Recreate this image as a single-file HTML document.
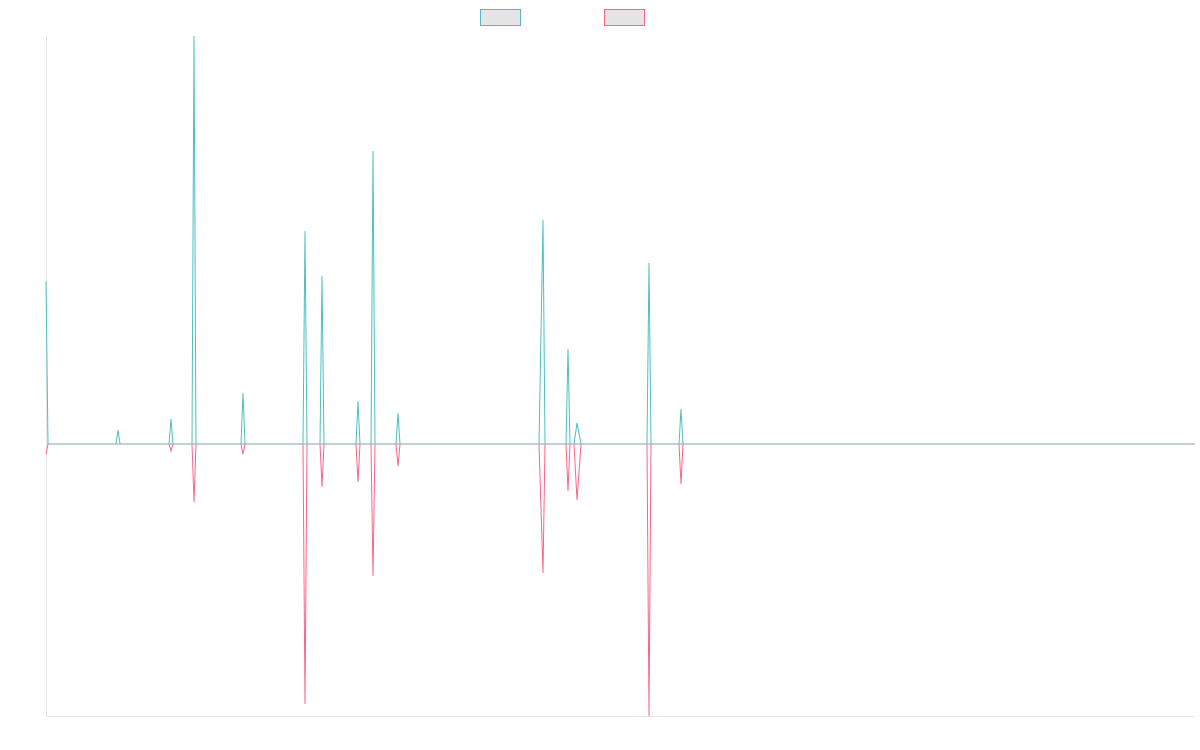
<!DOCTYPE html>
<html><head><meta charset="utf-8"><style>html,body{margin:0;padding:0;background:#fff;width:1200px;height:750px;overflow:hidden}</style></head>
<body>
<svg width="1200" height="750" xmlns="http://www.w3.org/2000/svg">
<rect x="480.5" y="9.5" width="40" height="16" fill="#e5e5e5" stroke="#4bc0c0" stroke-width="1"/>
<rect x="604.5" y="9.5" width="40" height="16" fill="#e5e5e5" stroke="#ff6384" stroke-width="1"/>
<line x1="46.5" y1="36" x2="46.5" y2="716" stroke="#e5e5e5"/>
<line x1="46" y1="716.5" x2="1195" y2="716.5" stroke="#e5e5e5"/>
<polyline fill="none" stroke="#ff6384" stroke-width="1" points="46,454 48,444 169,444 171,451 173,444 192,444 194,502 196,444 241,444 243,454 245,444 303,444 305,704 307,444 320,444 322,487 324,444 356,444 358,482 360,444 371,444 373,576 375,444 396,444 398,466 400,444 539,444 543,573 545,444 566,444 568,491 570,444 574,444 577,500 581,444 647,444 649,716 651,444 679,444 681,484 683,444 1195,444"/>
<polyline fill="none" stroke="#4bc0c0" stroke-width="1" points="46,281 48,444 116,444 118,430 120,444 169,444 171,419 173,444 192,444 194,36 196,444 241,444 243,393 245,444 303,444 305,231 307,444 320,444 322,276 324,444 356,444 358,401 360,444 371,444 373,151 375,444 396,444 398,413 400,444 539,444 543,220 545,444 566,444 568,349 570,444 574,444 577,423 581,444 647,444 649,263 651,444 679,444 681,409 683,444 1195,444"/>
<line x1="48" y1="444" x2="1195" y2="444" stroke="#9fb3b8" stroke-width="1.2"/>
</svg>
</body></html>
